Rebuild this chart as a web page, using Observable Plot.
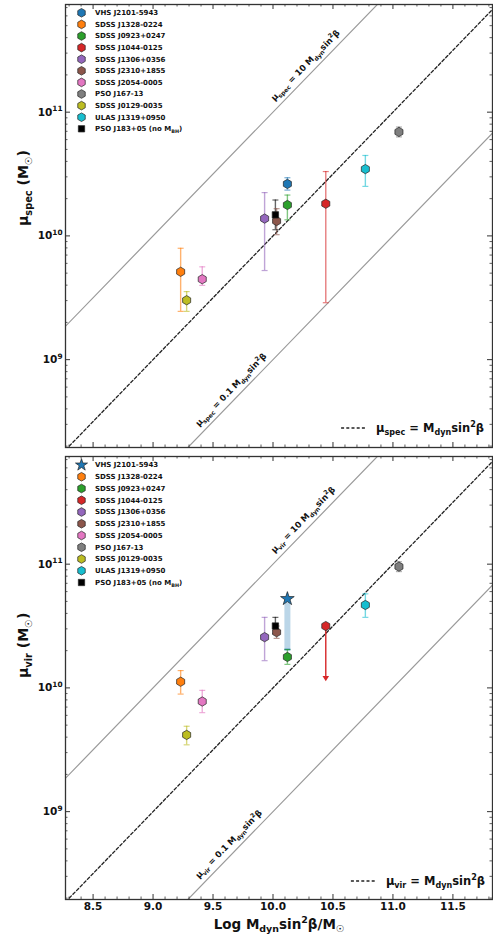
<!DOCTYPE html>
<html><head><meta charset="utf-8">
<script src="https://cdn.jsdelivr.net/npm/d3@7"></script>
<script src="https://cdn.jsdelivr.net/npm/@observablehq/plot@0.6"></script>
<style>
body{margin:0;background:#fff;}
#chart{width:493px;}
#chart svg{display:block;}
</style></head><body><div id="chart"></div>
<script>
// ---------------- data ----------------
const names = ["VHS J2101-5943","SDSS J1328-0224","SDSS J0923+0247","SDSS J1044-0125","SDSS J1306+0356","SDSS J2310+1855","SDSS J2054-0005","PSO J167-13","SDSS J0129-0035","ULAS J1319+0950","PSO J183+05 (no M_{BH})"];
const colors = ["#1f77b4","#ff7f0e","#2ca02c","#d62728","#9467bd","#8c564b","#e377c2","#7f7f7f","#bcbd22","#17becf","#000000"];
const logMdyn = [10.12, 9.23, 10.12, 10.44, 9.93, 10.03, 9.41, 11.05, 9.28, 10.77, 10.02];
const logMuSpec   = [10.42, 9.71, 10.25, 10.26, 10.14, 10.12, 9.65, 10.84, 9.48, 10.54, 10.17];
const logMuSpecLo = [10.37, 9.39, 10.13, 9.46, 9.72, 10.01, 9.60, 10.80, 9.39, 10.40, 10.05];
const logMuSpecHi = [10.47, 9.90, 10.33, 10.52, 10.35, 10.22, 9.75, 10.88, 9.55, 10.65, 10.29];
const specKind = ["err","err","err","err","err","err","err","err","err","err","err"];
const specSym  = ["hexagon","hexagon","hexagon","hexagon","hexagon","hexagon","hexagon","hexagon","hexagon","hexagon","square"];
const logMuVir   = [10.72, 10.05, 10.25, 10.50, 10.41, 10.45, 9.89, 10.98, 9.62, 10.67, 10.50];
const logMuVirLo = [10.31, 9.95, 10.19, 10.08, 10.22, 10.40, 9.80, 10.94, 9.54, 10.57, 10.44];
const logMuVirHi = [10.72, 10.14, 10.31, 10.50, 10.57, 10.50, 9.98, 11.02, 9.69, 10.76, 10.57];
const virKind = ["range","err","err","limit","err","err","err","err","err","err","err"];
const virSym  = ["star","hexagon","hexagon","hexagon","hexagon","hexagon","hexagon","hexagon","hexagon","hexagon","square"];

const xTicks = [8.5, 9.0, 9.5, 10.0, 10.5, 11.0, 11.5];
const xTickLabels = ["8.5","9.0","9.5","10.0","10.5","11.0","11.5"];
const yTicks = [1e9, 1e10, 1e11];
const yTickLabels = ["10^{9}","10^{10}","10^{11}"];
const xDomain = [8.27, 11.83];
const yDomain = [10 ** 8.29, 10 ** 11.87];
const lineFactors = [10, 1, 0.1];
const xLine = [8.0, 12.0];
const annotX = [10.05, 9.42];
const annotFactor = [10, 0.1];

// ---------------- helpers ----------------
const W = 493, ML = 65, MR = 1, MT = 4, FH = 443, FW = W - ML - MR;
const xMinor = d3.range(8.3, 11.85, 0.1).map(v => +v.toFixed(1)).filter(v => !xTicks.includes(v));
const yMinor = [];
for (const e of [8, 9, 10, 11]) for (let k = 2; k <= 9; k++) { const v = k * 10 ** e; if (v >= yDomain[0] && v <= yDomain[1]) yMinor.push(v); }

const hexSym = {draw(ctx, size) { const r = Math.sqrt(size / Math.PI) * 1.08; for (let k = 0; k < 6; k++) { const a = -Math.PI / 2 + k * Math.PI / 3; const px = r * Math.cos(a), py = r * Math.sin(a); k ? ctx.lineTo(px, py) : ctx.moveTo(px, py); } ctx.closePath(); }};
const capSym = {draw(ctx, size) { const r = Math.sqrt(size / Math.PI); ctx.moveTo(-r, 0); ctx.lineTo(r, 0); }};
const downTri = {draw(ctx, size) { const r = Math.sqrt(size / Math.PI); ctx.moveTo(-r, -r * 0.6); ctx.lineTo(r, -r * 0.6); ctx.lineTo(0, r * 1.0); ctx.closePath(); }};
const symObj = s => s === "hexagon" ? hexSym : s;
const d3Sym = s => s === "hexagon" ? hexSym : s === "square" ? d3.symbolSquare : s === "star" ? d3.symbolStar : d3.symbolCircle;

function richify(el) {
  const s = el.textContent;
  if (!/[_^]\{/.test(s)) return;
  const fs = parseFloat(getComputedStyle(el).fontSize) || 10;
  while (el.firstChild) el.removeChild(el.firstChild);
  const re = /([_^])\{([^}]*)\}/g;
  let last = 0, m, shift = 0;
  const add = (txt, kind) => {
    const t = document.createElementNS("http://www.w3.org/2000/svg", "tspan");
    let target = 0;
    if (kind === "_") { target = 0.28 * fs; t.setAttribute("font-size", (0.7 * fs) + "px"); }
    if (kind === "^") { target = -0.42 * fs; t.setAttribute("font-size", (0.7 * fs) + "px"); }
    const dy = target - shift; shift = target;
    if (dy) t.setAttribute("dy", dy);
    t.textContent = txt; el.appendChild(t);
  };
  while ((m = re.exec(s))) { if (m.index > last) add(s.slice(last, m.index), ""); add(m[2], m[1]); last = re.lastIndex; }
  if (last < s.length) add(s.slice(last), "");
}

// inward frame ticks drawn as inset rules
function frameTicks(vals, dir, len, sw) {
  const o = {stroke: "#333", strokeWidth: sw};
  if (dir === "x") return [
    Plot.ruleX(vals, {x: d => d, insetTop: FH - len, ...o}),
    Plot.ruleX(vals, {x: d => d, insetBottom: FH - len, ...o})
  ];
  return [
    Plot.ruleY(vals, {y: d => d, insetRight: FW - len, ...o}),
    Plot.ruleY(vals, {y: d => d, insetLeft: FW - len, ...o})
  ];
}

function panel({height, marginBottom, logMu, lo, hi, kinds, syms, muTex, yLabel, showX}) {
  const rows = names.map((n, i) => ({name: n, color: colors[i], x: logMdyn[i], y: 10 ** logMu[i], lo: 10 ** lo[i], hi: 10 ** hi[i], kind: kinds[i], sym: syms[i]}));
  const errRows = rows.filter(d => d.kind === "err");
  const rangeRows = rows.filter(d => d.kind === "range");
  const limRows = rows.filter(d => d.kind === "limit");
  const annots = annotX.map((x, i) => ({x, f: annotFactor[i], t: `${muTex} = ${annotFactor[i]} M_{dyn}sin^{2}β`}));
  const col = d => d.color;
  const marks = [
    ...lineFactors.map(f => Plot.line(xLine, {x: d => d, y: d => 10 ** d * f, clip: true,
        stroke: f === 1 ? "#222" : "#9a9a9a", strokeWidth: f === 1 ? 1.3 : 1.2, strokeDasharray: f === 1 ? "3,2.2" : null})),
    Plot.text(annots, {x: "x", y: d => 10 ** d.x * d.f, text: "t", rotate: -45.9, textAnchor: "start", dx: -6.5, dy: -6.5, fontSize: 8.5, fontWeight: "bold"}),
    Plot.ruleX(rangeRows, {x: "x", y1: "lo", y2: "hi", stroke: col, strokeWidth: 6, strokeOpacity: 0.3}),
    Plot.dot(rangeRows, {x: "x", y: "lo", symbol: capSym, r: 3, stroke: col, strokeWidth: 1.6}),
    Plot.ruleX(errRows, {x: "x", y1: "lo", y2: "hi", stroke: col, strokeWidth: 1.4, strokeOpacity: 0.6}),
    Plot.dot(errRows, {x: "x", y: "lo", symbol: capSym, r: 3, stroke: col, strokeOpacity: 0.6, strokeWidth: 1.2}),
    Plot.dot(errRows, {x: "x", y: "hi", symbol: capSym, r: 3, stroke: col, strokeOpacity: 0.6, strokeWidth: 1.2}),
    Plot.ruleX(limRows, {x: "x", y1: "lo", y2: "y", stroke: col, strokeWidth: 1.4}),
    Plot.dot(limRows, {x: "x", y: "lo", symbol: downTri, r: 3.3, fill: col}),
    ...["hexagon", "square", "star"].map(s => Plot.dot(rows.filter(d => d.sym === s), {x: "x", y: "y", symbol: symObj(s), r: s === "square" ? 3.6 : 4.3, fill: col, stroke: "#222", strokeWidth: 0.7})),
    ...frameTicks(xTicks, "x", 5, 1),
    ...frameTicks(xMinor, "x", 2.5, 0.8),
    ...frameTicks(yTicks, "y", 5, 1),
    ...frameTicks(yMinor, "y", 2.5, 0.8),
    Plot.axisY({anchor: "left", ticks: yTicks, tickSize: 0, tickPadding: 3, tickFormat: d => yTickLabels[yTicks.indexOf(d)], label: null, fontSize: 10.5, fontWeight: "bold"}),
    Plot.axisX({anchor: "bottom", ticks: showX ? xTicks : [], tickSize: 0, tickPadding: 3, tickFormat: d => xTickLabels[xTicks.indexOf(d)], label: null, fontSize: 10.5, fontWeight: "bold"}),
    Plot.frame({stroke: "#333", strokeWidth: 1.3}),
    Plot.text([yLabel], {frameAnchor: "left", dx: -42, rotate: -90, fontSize: 14, fontWeight: "bold"})
  ];
  if (showX) {
    marks.push(Plot.text(["Log M_{dyn}sin^{2}β/M_{☉}"], {frameAnchor: "bottom", dy: 29, fontSize: 13.5, fontWeight: "bold"}));
  }
  return Plot.plot({
    width: W, height, marginLeft: ML, marginRight: MR, marginTop: MT, marginBottom,
    style: {fontFamily: "DejaVu Sans", fontWeight: "bold", background: "#fff", overflow: "visible", color: "#111"},
    x: {type: "linear", domain: xDomain, label: null},
    y: {type: "log", domain: yDomain, label: null},
    marks
  });
}

function decorate(svg, {legendY0, legendStep, syms, muTex, keyY, keyRight}) {
  const root = d3.select(svg);
  const g = root.append("g").attr("font-size", 7).attr("font-weight", "bold").attr("font-family", "DejaVu Sans").attr("text-anchor", "start");
  names.forEach((n, i) => {
    const y = legendY0 + i * legendStep;
    const s = syms[i];
    const size = s === "square" ? 40 : s === "star" ? 45 : Math.PI * 16;
    g.append("path").attr("transform", `translate(81.5,${y})`).attr("d", d3.symbol(d3Sym(s), size)())
      .attr("fill", colors[i]).attr("stroke", "#222").attr("stroke-width", 0.7);
    g.append("text").attr("x", 95).attr("y", y).attr("dy", "0.35em").attr("text-anchor", "start").text(n);
  });
  const kt = root.append("text").attr("x", keyRight).attr("y", keyY).attr("dy", "0.35em").attr("text-anchor", "end")
    .attr("font-size", 11.5).attr("font-weight", "bold").attr("font-family", "DejaVu Sans").text(`${muTex} = M_{dyn}sin^{2}β`);
  root.selectAll("text").each(function() { richify(this); });
  const w = kt.node().getComputedTextLength();
  root.append("line").attr("x1", keyRight - w - 35).attr("x2", keyRight - w - 9).attr("y1", keyY).attr("y2", keyY)
    .attr("stroke", "#222").attr("stroke-width", 1.3).attr("stroke-dasharray", "3,2.2");
}

const chartEl = document.getElementById("chart");
const topPanel = panel({height: 452, marginBottom: 5, logMu: logMuSpec, lo: logMuSpecLo, hi: logMuSpecHi, kinds: specKind, syms: specSym, muTex: "μ_{spec}", yLabel: "μ_{spec} (M_{☉})", showX: false});
chartEl.appendChild(topPanel);
decorate(topPanel, {legendY0: 12.8, legendStep: 11.6, syms: specSym, muTex: "μ_{spec}", keyY: 428, keyRight: 484});
const botPanel = panel({height: 490, marginBottom: 43, logMu: logMuVir, lo: logMuVirLo, hi: logMuVirHi, kinds: virKind, syms: virSym, muTex: "μ_{vir}", yLabel: "μ_{vir} (M_{☉})", showX: true});
chartEl.appendChild(botPanel);
decorate(botPanel, {legendY0: 13, legendStep: 11.75, syms: virSym, muTex: "μ_{vir}", keyY: 429, keyRight: 485});
</script></body></html>
